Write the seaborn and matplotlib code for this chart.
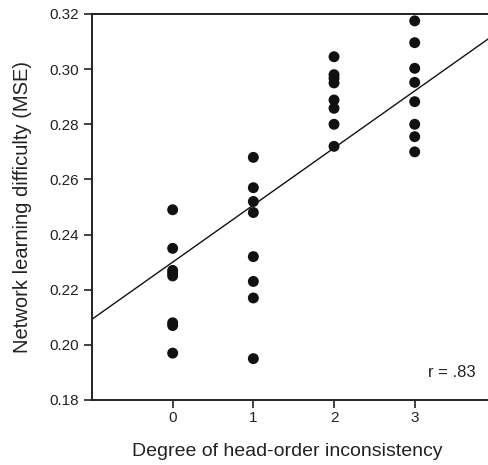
import pandas as pd
import seaborn as sns
import matplotlib.pyplot as plt

# values
inconsistency = [0] * 8 + [1] * 8 + [2] * 8 + [3] * 8
mse = [0.249, 0.235, 0.227, 0.226, 0.225, 0.208, 0.207, 0.197,
       0.268, 0.257, 0.252, 0.248, 0.232, 0.223, 0.217, 0.195,
       0.3045, 0.298, 0.2967, 0.295, 0.2888, 0.2858, 0.280, 0.272,
       0.3175, 0.3096, 0.3003, 0.2952, 0.2882, 0.280, 0.2755, 0.270]
x_ticks = [0, 1, 2, 3]
y_ticks = [0.18, 0.20, 0.22, 0.24, 0.26, 0.28, 0.30, 0.32]
fit_intercept = 0.230
fit_slope = 0.0207
r_label = "r = .83"

df = pd.DataFrame({"degree": inconsistency, "mse": mse})

sns.set_style("ticks")
plt.rcParams["font.family"] = ["Liberation Sans", "DejaVu Sans"]

fig = plt.figure(figsize=(4.88, 4.65), dpi=100)
ax = fig.add_axes([0.1885, 0.1398, 0.82, 0.8301])

sns.scatterplot(data=df, x="degree", y="mse", ax=ax, color="#111111",
                s=62, edgecolor="none", zorder=3, clip_on=False)
ax.axline((0, fit_intercept), slope=fit_slope, color="#111111", lw=1.0)

ax.set_xlim(-1, 3.96)
ax.set_ylim(0.18, 0.32)
ax.set_xticks(x_ticks)
ax.set_yticks(y_ticks)
ax.set_yticklabels([f"{v:.2f}" for v in y_ticks])

for side in ["left", "bottom", "top"]:
    ax.spines[side].set_visible(True)
    ax.spines[side].set_linewidth(1.4)
    ax.spines[side].set_color("#222222")
ax.spines["right"].set_visible(False)

ax.tick_params(axis="both", direction="out", length=6, width=1.2,
               labelsize=11, colors="#222222", pad=3)
ax.tick_params(axis="x", pad=2)

ax.set_xlabel("Degree of head-order inconsistency", fontsize=14,
              color="#222222", labelpad=13)
ax.xaxis.label.set_x(0.4875)
ax.set_ylabel("Network learning difficulty (MSE)", fontsize=14.5,
              color="#222222", labelpad=13)

ax.text(3.76, 0.190, r_label, ha="right", va="center", fontsize=12,
        color="#222222")

plt.savefig("out.png", dpi=100)
